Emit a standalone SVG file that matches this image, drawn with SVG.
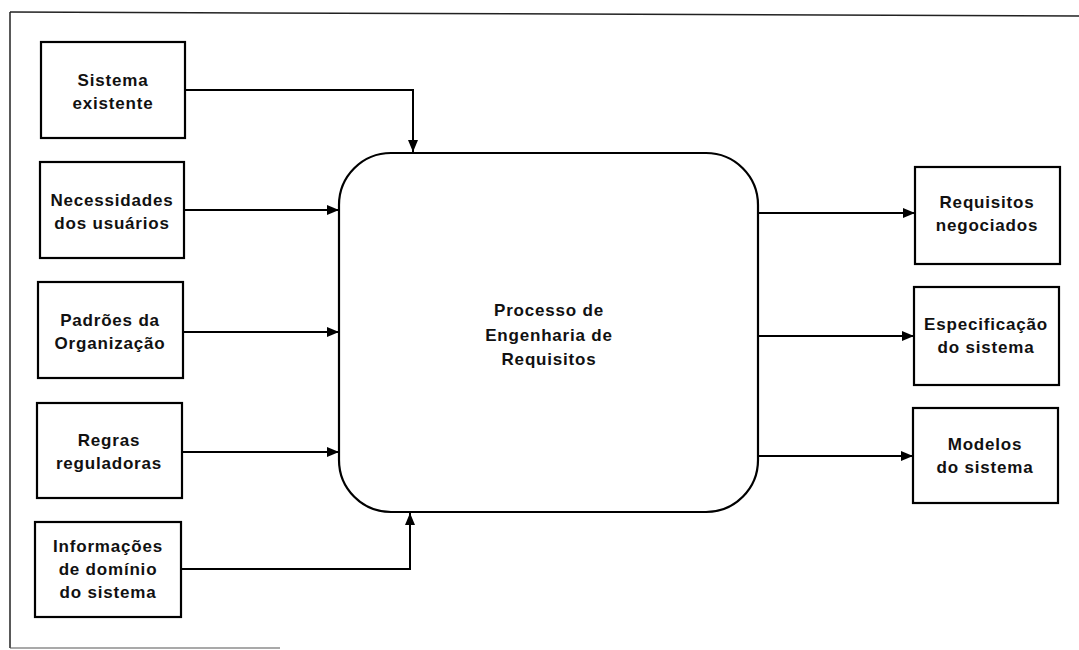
<svg xmlns="http://www.w3.org/2000/svg" width="1079" height="650" viewBox="0 0 1079 650">
<defs>
<style>
.box{fill:#fff;stroke:#000;stroke-width:2.2}
.t{font-family:"Liberation Sans",Arial,sans-serif;font-size:17px;font-weight:bold;letter-spacing:0.8px;text-anchor:middle;fill:#111}
.c{fill:none;stroke:#000;stroke-width:2}
.frame{fill:none;stroke:#222;stroke-width:1.5}
</style>
<marker id="ah" markerUnits="userSpaceOnUse" markerWidth="13" markerHeight="11" refX="12" refY="5" orient="auto">
<path d="M0,0 L12,5 L0,10 z" fill="#000"/>
</marker>
</defs>
<rect width="1079" height="650" fill="#fff"/>
<g id="frame">
<path class="frame" d="M10,12 L1079,16"/>
<path class="frame" d="M10,12 L10,648"/>
<path d="M10,648 L280,648" stroke="#555" stroke-width="1.2" fill="none"/>
</g>
<g id="connectors">
<path class="c" d="M185,90 H413 V152" marker-end="url(#ah)"/>
<path class="c" d="M184,210 H339" marker-end="url(#ah)"/>
<path class="c" d="M183,332 H339" marker-end="url(#ah)"/>
<path class="c" d="M182,452 H339" marker-end="url(#ah)"/>
<path class="c" d="M181,569 H410 V513" marker-end="url(#ah)"/>
<path class="c" d="M758,213 H915" marker-end="url(#ah)"/>
<path class="c" d="M758,336 H914" marker-end="url(#ah)"/>
<path class="c" d="M758,456 H913" marker-end="url(#ah)"/>
</g>
<g id="processo">
<rect class="box" x="339" y="153" width="419" height="359" rx="52" ry="52"/>
<text class="t" x="549" y="316">Processo de</text>
<text class="t" x="549" y="341">Engenharia de</text>
<text class="t" x="549" y="365">Requisitos</text>
</g>
<g id="sistema-existente">
<rect class="box" x="41" y="42" width="144" height="96"/>
<text class="t" x="113" y="86">Sistema</text>
<text class="t" x="113" y="109">existente</text>
</g>
<g id="necessidades">
<rect class="box" x="40" y="162" width="144" height="96"/>
<text class="t" x="112" y="206">Necessidades</text>
<text class="t" x="112" y="229">dos usuários</text>
</g>
<g id="padroes">
<rect class="box" x="38" y="282" width="145" height="96"/>
<text class="t" x="110" y="326">Padrões da</text>
<text class="t" x="110" y="349">Organização</text>
</g>
<g id="regras">
<rect class="box" x="37" y="403" width="145" height="95"/>
<text class="t" x="109" y="446">Regras</text>
<text class="t" x="109" y="469">reguladoras</text>
</g>
<g id="informacoes">
<rect class="box" x="35" y="522" width="146" height="95"/>
<text class="t" x="108" y="552">Informações</text>
<text class="t" x="108" y="575">de domínio</text>
<text class="t" x="108" y="598">do sistema</text>
</g>
<g id="requisitos-negociados">
<rect class="box" x="915" y="167" width="145" height="97"/>
<text class="t" x="987" y="208">Requisitos</text>
<text class="t" x="987" y="231">negociados</text>
</g>
<g id="especificacao">
<rect class="box" x="914" y="287" width="145" height="98"/>
<text class="t" x="986" y="330">Especificação</text>
<text class="t" x="986" y="353">do sistema</text>
</g>
<g id="modelos">
<rect class="box" x="913" y="408" width="145" height="95"/>
<text class="t" x="985" y="450">Modelos</text>
<text class="t" x="985" y="473">do sistema</text>
</g>
</svg>
